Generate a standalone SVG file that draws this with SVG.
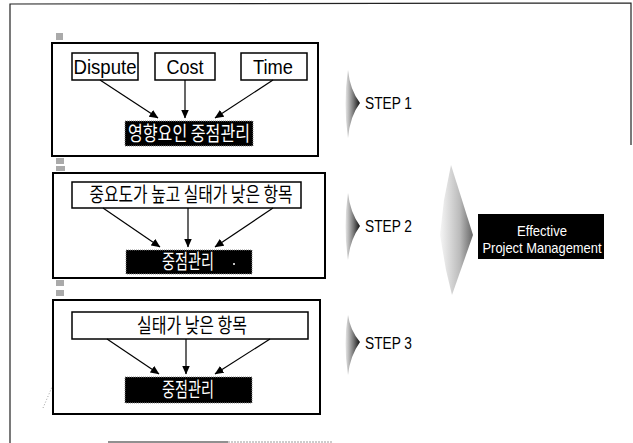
<svg xmlns="http://www.w3.org/2000/svg" width="633" height="443" viewBox="0 0 633 443">
<style>
.frame{fill:none;stroke:#222;stroke-width:1.2}
.step{fill:#fff;stroke:#000;stroke-width:2}
.item{fill:#fff;stroke:#000;stroke-width:1.5}
.blk{fill:#000;stroke:#888;stroke-width:1;stroke-dasharray:1 1}
.en{font-family:"Liberation Sans",Arial,sans-serif;fill:#000}
.ko{font-family:"Noto Sans CJK KR","Noto Sans",sans-serif}
.wt{fill:#fff}
.conn line{stroke:#000;stroke-width:1.2}
.art{fill:#aaa}
</style>
<defs>
<marker id="ah" markerWidth="9" markerHeight="8" refX="8.5" refY="4" orient="auto" markerUnits="userSpaceOnUse">
<path d="M0,0 L9,4 L0,8 Z" fill="#000"/>
</marker>
<linearGradient id="gs" x1="0" y1="0" x2="1" y2="0">
<stop offset="0" stop-color="#e8e8e8"/>
<stop offset="0.55" stop-color="#777"/>
<stop offset="1" stop-color="#111"/>
</linearGradient>
<linearGradient id="gb" x1="0" y1="0" x2="1" y2="0">
<stop offset="0" stop-color="#f6f6f6"/>
<stop offset="0.6" stop-color="#bbb"/>
<stop offset="1" stop-color="#666"/>
</linearGradient>
</defs>

<g id="frame">
<path class="frame" d="M10,443 L10,4 L631,3 L631,145"/>
<line x1="108" y1="442" x2="228" y2="442" stroke="#222" stroke-width="1.2"/>
<line x1="228" y1="442" x2="333" y2="442" stroke="#999" stroke-width="1" stroke-dasharray="2 1"/>
<line x1="43" y1="408" x2="52" y2="387" stroke="#888" stroke-width="0.8" stroke-dasharray="1 2"/>
<rect class="art" x="56" y="33" width="7" height="7"/>
<rect class="art" x="56" y="158" width="8" height="6"/>
<rect class="art" x="56" y="166" width="9" height="5"/>
<rect class="art" x="56" y="280" width="8" height="6"/>
<rect class="art" x="56" y="290" width="8" height="6"/>
</g>

<g id="step1">
<rect class="step" x="52" y="43" width="266" height="113"/>
<g id="n-dispute"><rect class="item" x="72" y="53" width="66" height="27"/><text class="en" x="105" y="74" font-size="20" text-anchor="middle" textLength="63" lengthAdjust="spacingAndGlyphs">Dispute</text></g>
<g id="n-cost"><rect class="item" x="155" y="53" width="60" height="27"/><text class="en" x="185" y="74" font-size="20" text-anchor="middle" textLength="37" lengthAdjust="spacingAndGlyphs">Cost</text></g>
<g id="n-time"><rect class="item" x="241" y="53" width="66" height="27"/><text class="en" x="273" y="74" font-size="20" text-anchor="middle" textLength="40" lengthAdjust="spacingAndGlyphs">Time</text></g>
<g id="n-s1"><rect class="blk" x="125" y="121" width="128" height="25"/><text class="ko wt" x="189" y="141" font-size="20" text-anchor="middle" textLength="122" lengthAdjust="spacingAndGlyphs">영향요인 중점관리</text></g>
</g>

<g id="step2">
<rect class="step" x="53" y="173" width="272" height="105"/>
<g id="n-high"><rect class="item" x="72" y="182" width="229" height="26"/><text class="ko" x="191" y="202" font-size="20" text-anchor="middle" textLength="203" lengthAdjust="spacingAndGlyphs">중요도가 높고 실태가 낮은 항목</text></g>
<g id="n-s2"><rect class="blk" x="126" y="250" width="126" height="24"/><text class="ko wt" x="188" y="269" font-size="20" text-anchor="middle" textLength="52" lengthAdjust="spacingAndGlyphs">중점관리</text><circle cx="234" cy="264" r="1" fill="#fff"/></g>
</g>

<g id="step3">
<rect class="step" x="53" y="300" width="267" height="114"/>
<g id="n-low"><rect class="item" x="72" y="312" width="236" height="27"/><text class="ko" x="192" y="333" font-size="20" text-anchor="middle" textLength="110" lengthAdjust="spacingAndGlyphs">실태가 낮은 항목</text></g>
<g id="n-s3"><rect class="blk" x="125" y="377" width="127" height="26"/><text class="ko wt" x="188" y="397" font-size="20" text-anchor="middle" textLength="52" lengthAdjust="spacingAndGlyphs">중점관리</text></g>
</g>

<g id="labels">
<g id="l-step1"><path d="M348,70 Q350,90 360,103 Q350,116 348,138 Q343,103 348,70 Z" fill="url(#gs)"/><text class="en" x="365" y="109" font-size="17" textLength="47" lengthAdjust="spacingAndGlyphs">STEP 1</text></g>
<g id="l-step2"><path d="M348,193 Q350,212 360,226 Q350,240 348,260 Q343,226 348,193 Z" fill="url(#gs)"/><text class="en" x="365" y="232" font-size="17" textLength="47" lengthAdjust="spacingAndGlyphs">STEP 2</text></g>
<g id="l-step3"><path d="M348,315 Q350,330 360,342 Q350,356 348,375 Q343,342 348,315 Z" fill="url(#gs)"/><text class="en" x="365" y="349" font-size="17" textLength="47" lengthAdjust="spacingAndGlyphs">STEP 3</text></g>
<g id="big-arrow"><path d="M451,165 L473,235 L452,295 L446,270 L440,235 L444,200 Z" fill="url(#gb)"/></g>
<g id="n-epm"><rect x="478" y="214" width="126" height="45" fill="#000"/><text class="en wt" x="542" y="236" font-size="15" text-anchor="middle" textLength="50" lengthAdjust="spacingAndGlyphs">Effective</text><text class="en wt" x="542" y="253" font-size="15" text-anchor="middle" textLength="119" lengthAdjust="spacingAndGlyphs">Project Management</text></g>
</g>

<g id="connectors" class="conn">
<line x1="100" y1="80" x2="158" y2="118" marker-end="url(#ah)"/>
<line x1="185" y1="80" x2="185" y2="118" marker-end="url(#ah)"/>
<line x1="273" y1="80" x2="215" y2="118" marker-end="url(#ah)"/>
<line x1="103" y1="208" x2="160" y2="247" marker-end="url(#ah)"/>
<line x1="188" y1="208" x2="188" y2="247" marker-end="url(#ah)"/>
<line x1="273" y1="208" x2="215" y2="247" marker-end="url(#ah)"/>
<line x1="107" y1="339" x2="159" y2="374" marker-end="url(#ah)"/>
<line x1="186" y1="339" x2="186" y2="374" marker-end="url(#ah)"/>
<line x1="270" y1="339" x2="215" y2="374" marker-end="url(#ah)"/>
</g>
</svg>
